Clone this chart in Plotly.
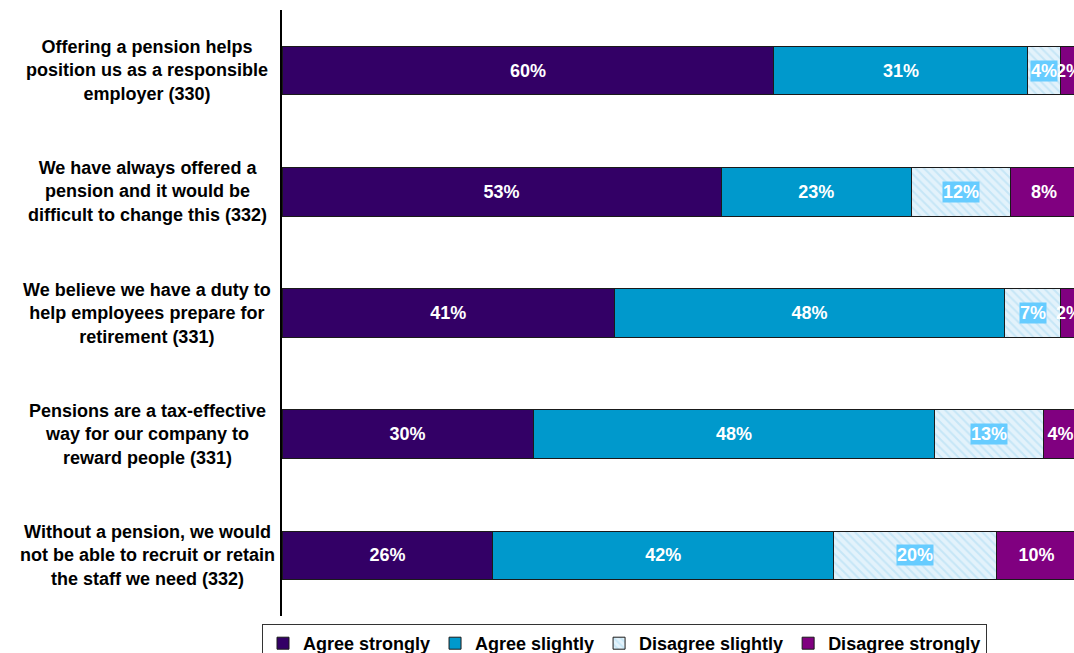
import plotly.graph_objects as go

# Survey statements (sample size in brackets)
statements = [
    "Offering a pension helps<br>position us as a responsible<br>employer (330)",
    "We have always offered a<br>pension and it would be<br>difficult to change this (332)",
    "We believe we have a duty to<br>help employees prepare for<br>retirement (331)",
    "Pensions are a tax-effective<br>way for our company to<br>reward people (331)",
    "Without a pension, we would<br>not be able to recruit or retain<br>the staff we need (332)",
]
row_ids = ["s1", "s2", "s3", "s4", "s5"]

agree_strongly = [60, 53, 41, 30, 26]
agree_slightly = [31, 23, 48, 48, 42]
disagree_slightly = [4, 12, 7, 13, 20]
disagree_strongly = [2, 8, 2, 4, 10]

FONT = "Arial, Liberation Sans, sans-serif"
outline = dict(color="#1a1a1a", width=1)

fig = go.Figure()


def add_series(name, values, color, pattern=None, show_text=True):
    marker = dict(color=color, line=outline)
    if pattern:
        marker["pattern"] = pattern
    fig.add_trace(go.Bar(
        name=f"<b>{name}</b>",
        y=row_ids,
        x=values,
        orientation="h",
        width=0.4,
        marker=marker,
        text=[f"{v}%" for v in values] if show_text else None,
        texttemplate="<b>%{text}</b>" if show_text else None,
        textposition="inside",
        insidetextanchor="middle",
        textangle=0,
        constraintext="none",
        textfont=dict(family=FONT, size=18, color="white"),
        hoverinfo="skip",
    ))


add_series("Agree strongly", agree_strongly, "#330066")
add_series("Agree slightly", agree_slightly, "#0099CC")
add_series("Disagree slightly", disagree_slightly, "#E3F2FB",
           pattern=dict(shape="\\", fgcolor="#A9DAF2", size=6, solidity=0.35),
           show_text=False)
add_series("Disagree strongly", disagree_strongly, "#800080")

annotations = []
# Labels for the hatched segment sit on a light-blue box
for rid, a, b, c, d in zip(row_ids, agree_strongly, agree_slightly,
                           disagree_slightly, disagree_strongly):
    total = a + b + c + d
    mid = (a + b + c / 2) / total * 100
    annotations.append(dict(
        x=mid, y=rid, xref="x", yref="y", text=f"<b>{c}%</b>", showarrow=False,
        font=dict(family=FONT, size=18, color="white"),
        bgcolor="#66CCFF", borderpad=0,
    ))

# Statement labels to the left of the axis, centred
plot_left, plot_w = 282, 1074 - 282
for rid, label in zip(row_ids, statements):
    annotations.append(dict(
        x=(147 - plot_left) / plot_w, y=rid, xref="paper", yref="y",
        text=f"<b>{label}</b>", showarrow=False, align="center",
        xanchor="center", yanchor="middle",
        font=dict(family=FONT, size=18, color="black"),
    ))

fig.update_layout(
    width=1074, height=653,
    margin=dict(l=282, r=0, t=10, b=37),
    barmode="stack",
    barnorm="percent",
    paper_bgcolor="white",
    plot_bgcolor="white",
    font=dict(family=FONT, size=18, color="black"),
    uniformtext=dict(minsize=18, mode="show"),
    xaxis=dict(range=[0, 99.6], visible=False, fixedrange=True),
    yaxis=dict(autorange="reversed", showticklabels=False, ticks="",
               showgrid=False, zeroline=False, showline=True,
               linecolor="black", linewidth=1.5),
    legend=dict(
        orientation="h", xref="container", yref="container",
        x=262 / 1074, y=1 - 624 / 653, xanchor="left", yanchor="top",
        bordercolor="#333333", borderwidth=1,
        font=dict(family=FONT, size=18, color="black"),
        traceorder="normal", entrywidth=0,
        itemwidth=30, tracegroupgap=0,
    ),
    annotations=annotations,
    showlegend=True,
)

fig.write_html("out.html")
